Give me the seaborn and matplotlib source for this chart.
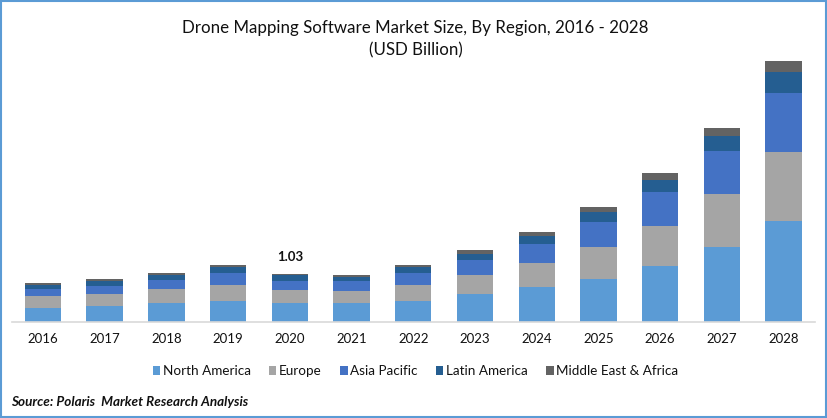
import matplotlib
matplotlib.use("Agg")
import matplotlib.pyplot as plt
import seaborn as sns
from matplotlib.patches import Rectangle

years = ["2016","2017","2018","2019","2020","2021","2022","2023","2024","2025","2026","2027","2028"]
north_america = [.30,.34,.39,.45,.39,.39,.45,.58,.73,.92,1.20,1.61,2.15]
europe = [.24,.26,.30,.34,.28,.26,.34,.41,.52,.67,.86,1.12,1.48]
asia_pacific = [.15,.17,.21,.26,.21,.21,.26,.32,.41,.54,.71,.92,1.27]
latin_america = [.09,.09,.09,.11,.11,.09,.11,.13,.17,.21,.26,.34,.45]
middle_east_africa = [.04,.06,.06,.06,.04,.04,.06,.09,.09,.11,.15,.17,.24]
series = ["North America","Europe","Asia Pacific","Latin America","Middle East & Africa"]
values = [north_america, europe, asia_pacific, latin_america, middle_east_africa]
colors = ["#5B9BD5","#A5A5A5","#4472C4","#255E91","#636363"]
title = "Drone Mapping Software Market Size, By Region, 2016 - 2028\n(USD Billion)"
source = "Source: Polaris  Market Research Analysis"

sns.set_theme(style="white")
plt.rcParams['font.family'] = ['Lato', 'DejaVu Sans']
W, H = 827, 418
fig = plt.figure(figsize=(W/100, H/100), dpi=100, facecolor="white")
top_px, base_px = 42, 321.5
ax = fig.add_axes([12/W, 1-base_px/H, (814.5-12)/W, (base_px-top_px)/H])

bottom = [0.0]*len(years)
for name, vals, c in zip(series, values, colors):
    sns.barplot(x=years, y=vals, bottom=bottom, color=c, saturation=1, width=0.59, label=name, ax=ax,
                errorbar=None, linewidth=0, edgecolor="none")
    bottom = [b+v for b, v in zip(bottom, vals)]

ax.set_xlim(-0.5, 12.5)
ax.set_ylim(0, 6.0)
ax.set_yticks([])
ax.set_ylabel("")
ax.set_xlabel("")
for s in ["top","left","right"]:
    ax.spines[s].set_visible(False)
ax.spines["bottom"].set_color("#D9D9D9")
ax.spines["bottom"].set_linewidth(1.2)
ax.tick_params(axis="x", length=0, pad=8.5, labelsize=9.5, labelcolor="#111111")

ax.annotate("1.03", xy=(4, 1.03), xytext=(0, 11), textcoords="offset pixels", ha="center", va="bottom",
            fontsize=9.5, fontweight="bold", color="#111111")

fig.text(415.5/W, 1-27.5/H, title.split("\n")[0], ha="center", va="center", fontsize=12.15, color="#111111")
fig.text(415.5/W, 1-50/H, title.split("\n")[1], ha="center", va="center", fontsize=12.15, color="#111111")
fig.text(11/W, 1-402/H, source, ha="left", va="center", fontsize=9.7, fontweight="bold", fontstyle="italic", color="#111111")

leg = ax.legend(loc="center", bbox_to_anchor=(415.5/W, 1-371/H), bbox_transform=fig.transFigure, ncol=5, frameon=False,
          fontsize=9.7, handlelength=0.55, handleheight=0.6, handletextpad=0.2, columnspacing=1.36, borderpad=0)
for t in leg.get_texts():
    t.set_color("#111111")

fig.add_artist(Rectangle((1/W, 1/H), (W-2)/W, (H-2)/H, transform=fig.transFigure, fill=False, edgecolor="#5B9BD5", linewidth=1.5))
fig.savefig("out.png", dpi=100)
